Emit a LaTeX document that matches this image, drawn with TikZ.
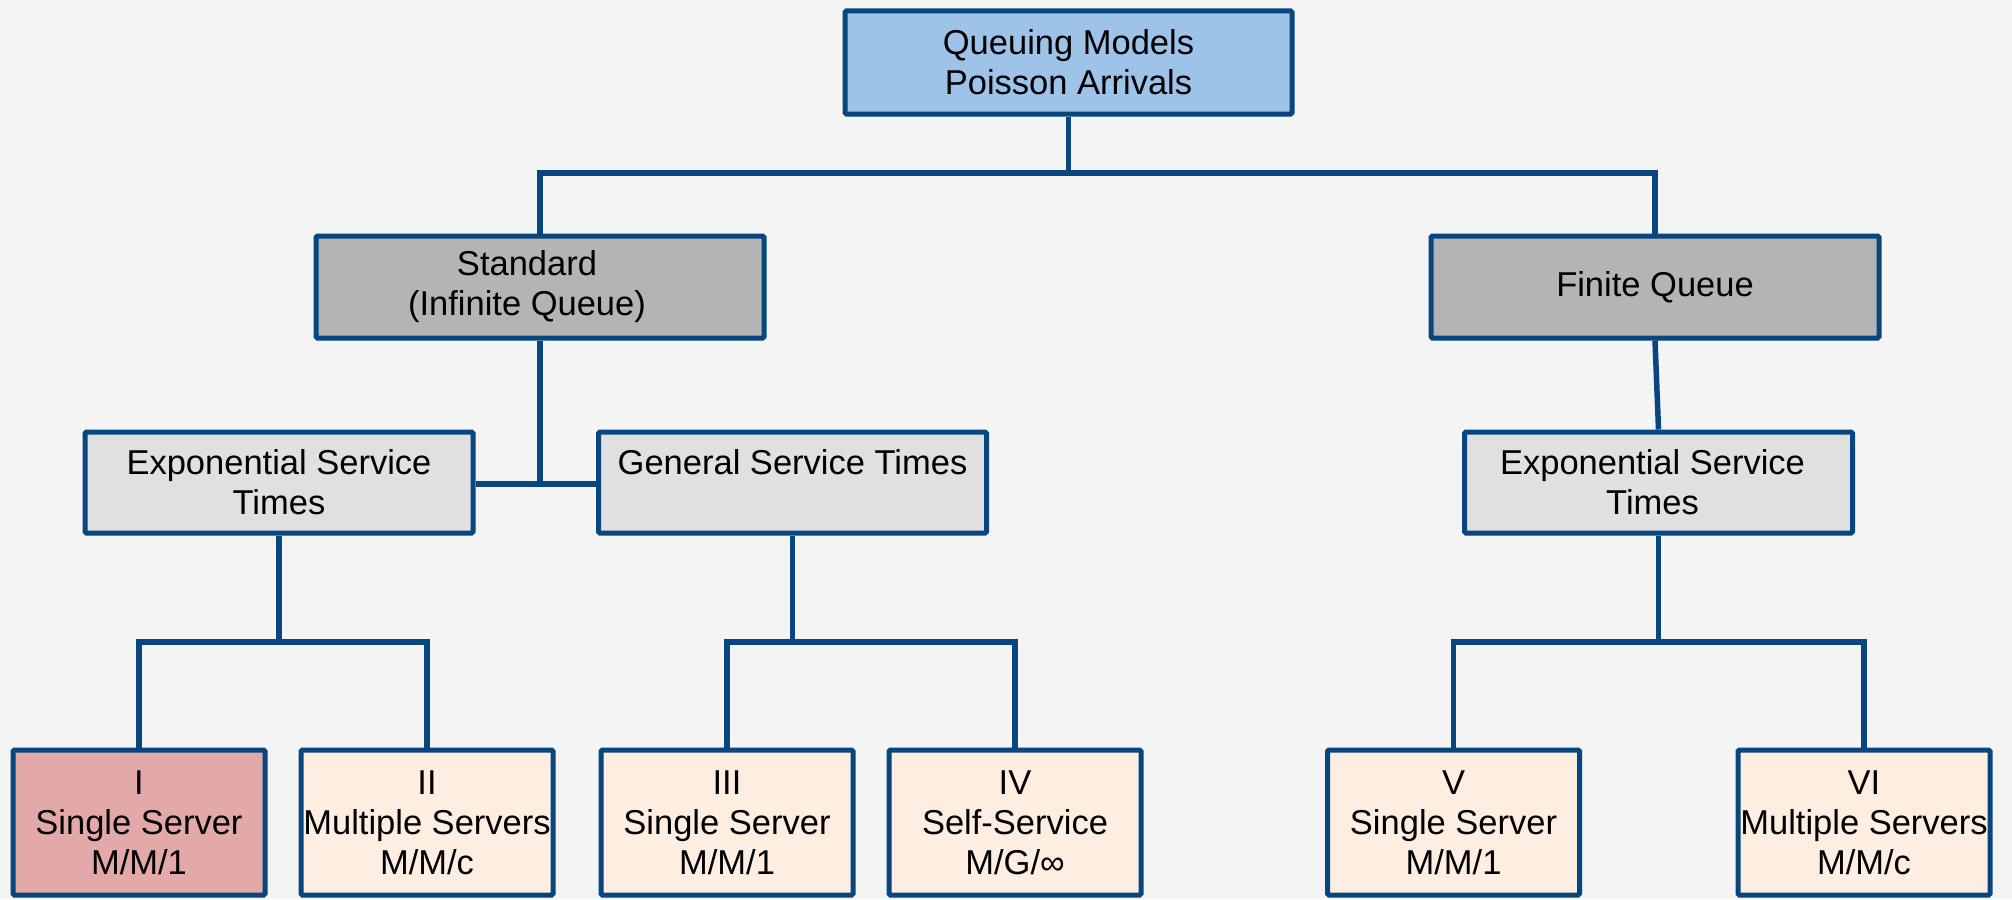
\documentclass[tikz,border=0pt]{standalone}
\usepackage{fontspec}
\setmainfont{Liberation Sans}
\definecolor{bg}{HTML}{F4F4F4}
\definecolor{edge}{HTML}{07467E}
\definecolor{topfill}{HTML}{9DC3E8}
\definecolor{midfill}{HTML}{B4B4B4}
\definecolor{subfill}{HTML}{E0E0E0}
\definecolor{leaffill}{HTML}{FDEEE1}
\definecolor{hifill}{HTML}{E2A9A8}
\begin{document}
\begin{tikzpicture}[x=1pt,y=-1pt,
  box/.style={draw=edge, line width=5pt, rounded corners=1.5pt, align=center,
    inner sep=0pt, font=\fontsize{34.5}{40}\selectfont},
  topbox/.style={box, fill=topfill, minimum width=447, minimum height=103},
  midbox/.style={box, fill=midfill, minimum width=448, minimum height=102},
  subbox/.style={box, fill=subfill, minimum width=388, minimum height=101},
  leafbox/.style={box, fill=leaffill, minimum width=252, minimum height=145},
  link/.style={draw=edge, line width=5.5pt}]
\fill[bg] (0,0) rectangle (2012,899);
\useasboundingbox (0,0) rectangle (2012,899);

\node[topbox] (top) at (1068.5,62.5) {Queuing Models\\Poisson Arrivals};
\node[midbox] (std) at (540,287) {\hspace*{-26pt}Standard\\\hspace*{-26pt}(Infinite Queue)};
\node[midbox] (fin) at (1655,287) {\raisebox{5pt}{Finite Queue}};
\node[subbox] (expL) at (279,482.5) {Exponential Service\\Times};
\node[subbox] (gen) at (792.5,482.5) {General Service Times\\\phantom{Times}};
\node[subbox] (expR) at (1658.5,482.5) {\hspace*{-12pt}Exponential Service\\\hspace*{-12pt}Times};

\node[leafbox, fill=hifill] (b1) at (139,822.5) {I\\Single Server\\M/M/1};
\node[leafbox] (b2) at (427,822.5) {II\\Multiple Servers\\M/M/c};
\node[leafbox] (b3) at (727,822.5) {III\\Single Server\\M/M/1};
\node[leafbox] (b4) at (1015,822.5) {IV\\Self-Service\\M/G/∞};
\node[leafbox] (b5) at (1453.5,822.5) {V\\Single Server\\M/M/1};
\node[leafbox] (b6) at (1864,822.5) {VI\\Multiple Servers\\M/M/c};

\coordinate (j1) at (1068.5,173);
\coordinate (j2) at (540,484);
\coordinate (j3) at (279,642);
\coordinate (j4) at (792.5,642);
\coordinate (j5) at (1658.5,642);

\draw[link] (top.south) -- (j1);
\draw[link] (std.north) |- (j1) -| (fin.north);
\draw[link] (std.south) -- (j2);
\draw[link] (expL.east |- j2) -- (gen.west |- j2);
\draw[link] (fin.south) -- (expR.north);
\draw[link] (expL.south) -- (j3);
\draw[link] (b1.north) |- (j3) -| (b2.north);
\draw[link] (gen.south) -- (j4);
\draw[link] (b3.north) |- (j4) -| (b4.north);
\draw[link] (expR.south) -- (j5);
\draw[link] (b5.north) |- (j5) -| (b6.north);
\end{tikzpicture}
\end{document}
